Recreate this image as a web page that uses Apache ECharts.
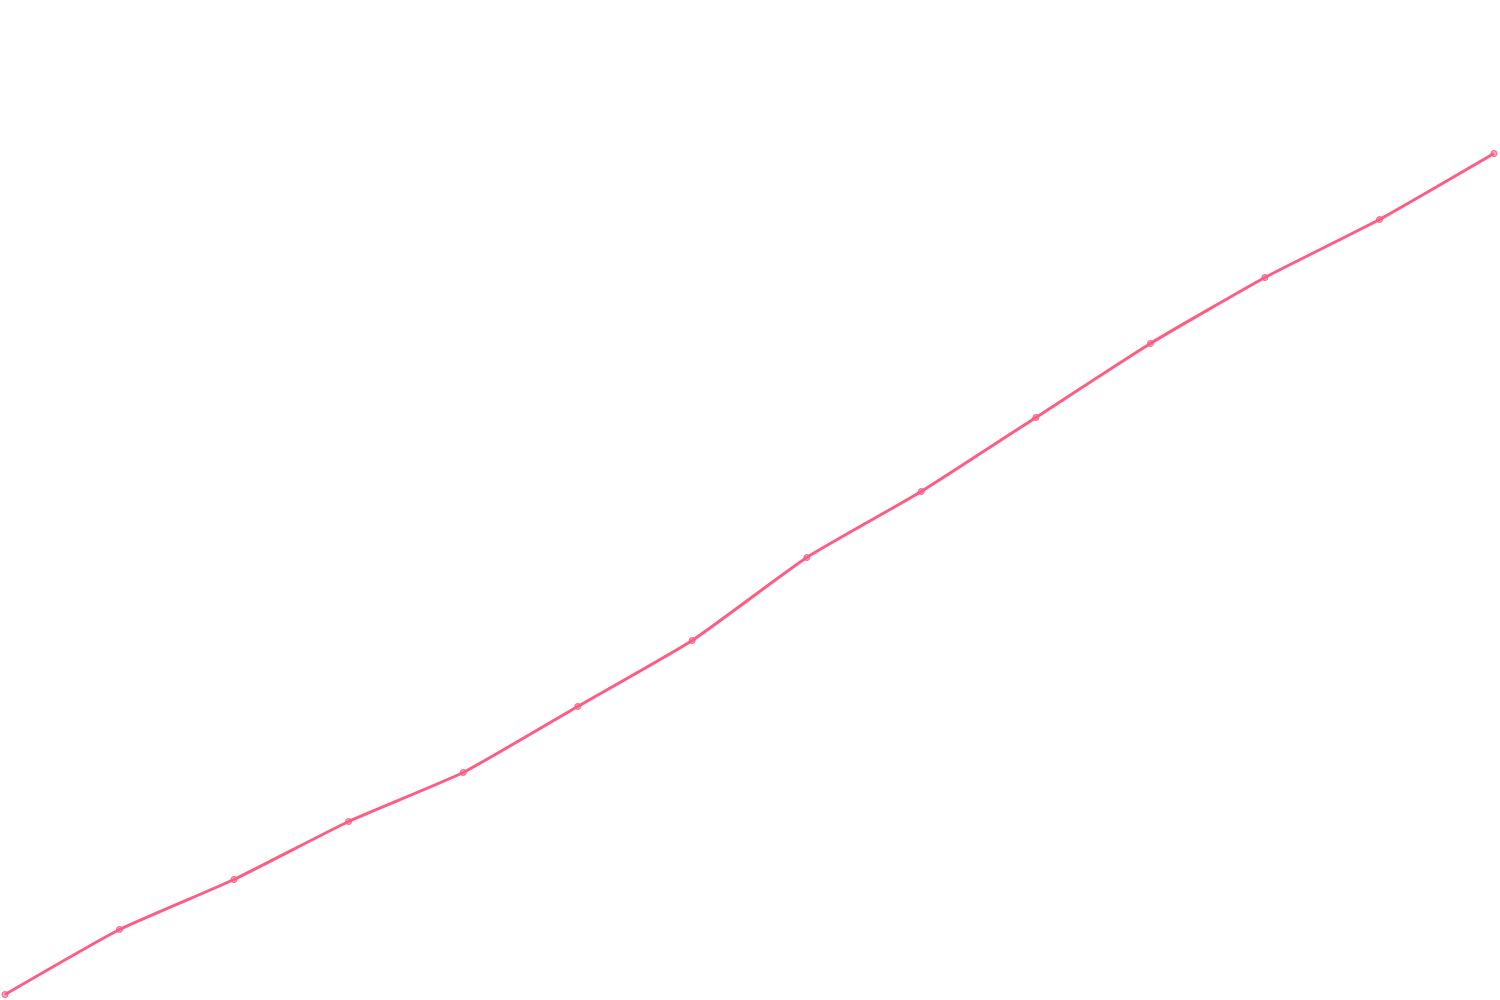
<!DOCTYPE html>
<html>
<head>
<meta charset="utf-8">
<script src="https://cdn.jsdelivr.net/npm/echarts@6/dist/echarts.min.js"></script>
<style>
  html, body { margin: 0; padding: 0; background: #fff; }
  #chart { width: 1500px; height: 1000px; }
</style>
</head>
<body>
<div id="chart"></div>
<script>
// 数据
var categories = ['1', '2', '3', '4', '5', '6', '7', '8', '9', '10', '11', '12', '13', '14'];
var values = [0, 65.8, 116.4, 175.1, 224.7, 291.5, 358.3, 442.3, 509.1, 584.0, 658.9, 725.7, 784.4, 851.2];

var chart = echarts.init(document.getElementById('chart'));

var option = {
  animation: false,
  grid: {
    left: 5,
    right: 6,
    top: 6.5,
    bottom: 5.5
  },
  xAxis: {
    type: 'category',
    boundaryGap: false,
    data: categories,
    show: false
  },
  yAxis: {
    type: 'value',
    min: 0,
    max: 1000,
    show: false
  },
  series: [
    {
      type: 'line',
      smooth: 0.15,
      data: values,
      symbol: 'circle',
      symbolSize: 6,
      lineStyle: { color: '#ff5c85', width: 3 },
      itemStyle: { color: 'rgba(255,92,133,0.55)', borderColor: '#f06088', borderWidth: 1 }
    }
  ]
};

chart.setOption(option);
</script>
</body>
</html>
